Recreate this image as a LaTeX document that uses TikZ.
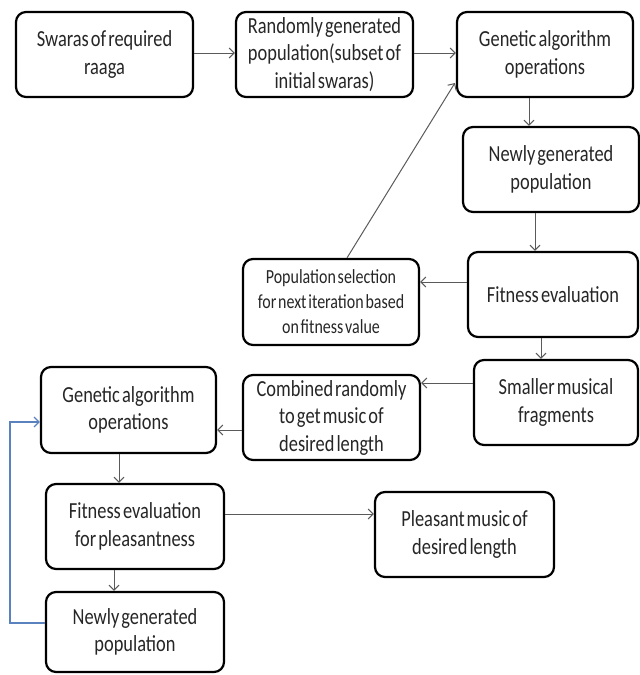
\documentclass[tikz,border=0pt]{standalone}
\usepackage{fontspec}
\setmainfont{Carlito}[FakeStretch=0.8,WordSpace=0.5]
\usetikzlibrary{arrows.meta,calc}
\definecolor{loopblue}{RGB}{90,130,190}
\definecolor{arrgray}{RGB}{90,90,90}
\begin{document}
\begin{tikzpicture}[x=1pt,y=-1pt,
  box/.style={draw=black, line width=2.2pt, rounded corners=10pt, align=center, inner sep=2pt,
    font=\fontsize{23}{27.5}\selectfont, text=black!85},
  smallbox/.style={box, font=\fontsize{20}{25}\selectfont},
  arr/.style={draw=arrgray, line width=1pt, -{Straight Barb[length=5pt,width=10pt]}},
  bluearr/.style={draw=loopblue, line width=1.2pt, -{Straight Barb[length=5pt,width=10pt]}}]
\useasboundingbox (0,0) rectangle (640,675);
% top row
\node[box, minimum width=177, minimum height=85] (A) at (104.5,54.5) {Swaras of required\\raaga};
\node[box, minimum width=177, minimum height=85] (B) at (324.5,54.5) {Randomly generated\\population(subset of\\initial swaras)};
\node[box, minimum width=176, minimum height=85] (C) at (545,54.5) {Genetic algorithm\\operations};
\node[box, minimum width=176, minimum height=85] (D) at (551,169.5) {Newly generated\\population};
\node[box, minimum width=170, minimum height=85] (F) at (553,294.5) {Fitness evaluation};
\node[smallbox, minimum width=176, minimum height=86] (P) at (331,302) {Population selection\\for next iteration based\\on fitness value};
\node[box, minimum width=164, minimum height=85] (S) at (556,402.5) {Smaller musical\\fragments};
\node[box, minimum width=177, minimum height=85] (Cm) at (331.5,417.5) {Combined randomly\\to get music of\\desired length};
\node[box, minimum width=175, minimum height=86] (G2) at (128.5,410) {Genetic algorithm\\operations};
\node[box, minimum width=178, minimum height=85] (FE) at (135,526.5) {Fitness evaluation\\for pleasantness};
\node[box, minimum width=179, minimum height=85] (PM) at (464.5,534.5) {Pleasant music of\\desired length};
\node[box, minimum width=178, minimum height=80] (NG) at (135,632) {Newly generated\\population};
% helper coordinates
\coordinate (xcd) at (529,0);
\coordinate (xdf) at (535,0);
\coordinate (xfs) at (541,0);
\coordinate (yfp) at (0,282);
\coordinate (ysc) at (0,383);
\coordinate (ycg) at (0,430);
\coordinate (xgf) at (119,0);
\coordinate (yfm) at (0,514);
\coordinate (xfn) at (114,0);
\coordinate (yng) at (0,623);
\coordinate (yg2) at (0,422);
\coordinate (xloop) at (10,0);
% connectors
\draw[arr] (A.east |- 0,53) -- (B.west |- 0,53);
\draw[arr] (B.east |- 0,53) -- (C.west |- 0,53);
\draw[arr] (xcd |- C.south) -- (xcd |- D.north);
\draw[arr] (xdf |- D.south) -- (xdf |- F.north);
\draw[arr] (F.west |- yfp) -- (P.east |- yfp);
\draw[arr] ($(P.north)+(16,0)$) -- ($(C.west)+(-1,28.5)$);
\draw[arr] (xfs |- F.south) -- (xfs |- S.north);
\draw[arr] (S.west |- ysc) -- (Cm.east |- ysc);
\draw[arr] (Cm.west |- ycg) -- (G2.east |- ycg);
\draw[arr] (xgf |- G2.south) -- (xgf |- FE.north);
\draw[arr] (FE.east |- yfm) -- (PM.west |- yfm);
\draw[arr] (xfn |- FE.south) -- (xfn |- NG.north);
\draw[bluearr] (NG.west |- yng) -- (xloop |- yng) -- (xloop |- yg2) -- (G2.west |- yg2);
\end{tikzpicture}
\end{document}
